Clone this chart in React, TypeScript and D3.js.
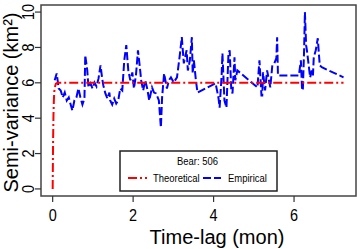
import React from 'react';
import * as d3 from 'd3';

// empirical semi-variance, Bear 506
const empLag = [
  0.05, 0.10, 0.15, 0.20, 0.25, 0.30, 0.35, 0.40, 0.44, 0.49, 0.54, 0.59, 0.64, 0.69, 0.74, 0.79,
  0.81, 0.86, 0.89, 0.94, 0.99, 1.04, 1.09, 1.14, 1.19, 1.23, 1.26, 1.31, 1.36, 1.41, 1.43, 1.48,
  1.53, 1.58, 1.63, 1.68, 1.73, 1.78, 1.83, 1.88, 1.93, 1.98, 2.02, 2.07, 2.12, 2.17, 2.20, 2.25,
  2.30, 2.35, 2.40, 2.47, 2.52, 2.57, 2.64, 2.69, 2.72, 2.77, 2.84, 2.89, 2.94, 3.01, 3.09, 3.16,
  3.21, 3.26, 3.33, 3.36, 3.41, 3.46, 3.48, 3.51, 3.56, 3.60,
  4.05, 4.12, 4.15, 4.20, 4.22, 4.27, 4.32, 4.37, 4.40, 4.44, 4.47, 4.52, 4.54, 4.59,
  5.09, 5.14, 5.19, 5.21, 5.23, 5.28, 5.33, 5.41, 5.46, 5.51, 5.56, 5.58, 5.60,
  6.12, 6.17, 6.20, 6.22, 6.25, 6.27, 6.30, 6.32, 6.37, 6.40, 6.44, 6.47, 6.49, 6.54, 6.59, 6.62,
  6.64, 6.69, 7.23,
];
const empGamma = [
  6.14, 6.53, 5.68, 5.57, 5.17, 5.45, 5.00, 5.17, 4.83, 4.43, 5.00, 5.17, 5.68, 5.17, 4.77, 5.11,
  7.56, 6.70, 5.74, 5.97, 5.68, 6.02, 5.80, 6.25, 6.99, 6.25, 5.85, 5.40, 5.11, 5.45, 5.00, 4.77,
  5.11, 4.83, 5.00, 5.68, 5.57, 7.27, 8.13, 6.70, 6.14, 6.59, 5.68, 6.42, 7.84, 6.82, 6.14, 5.57,
  6.14, 5.68, 5.00, 5.74, 5.45, 5.40, 5.00, 3.47, 5.17, 6.53, 5.68, 6.14, 6.31, 6.02, 6.31, 7.56,
  8.58, 7.10, 7.84, 6.70, 7.27, 8.58, 6.53, 7.27, 6.14, 5.45,
  5.97, 5.17, 4.60, 6.42, 7.67, 5.00, 4.60, 7.67, 7.84, 5.57, 5.40, 7.44, 6.14, 6.70,
  5.74, 7.27, 5.28, 5.28, 6.59, 5.57, 6.70, 5.74, 6.99, 7.10, 7.39, 8.58, 6.42,
  6.42, 7.27, 5.57, 5.68, 7.84, 10.0, 8.13, 7.84, 6.88, 6.31, 6.70, 6.42, 7.44, 7.84, 8.52, 7.56,
  6.99, 6.88, 6.31,
];

// fitted (theoretical) model
const theoLag = [0, 0.01, 0.02, 0.03, 0.04, 0.06, 0.08, 0.12, 7.23];
const theoGamma = [0, 2.6, 4.2, 5.0, 5.5, 5.8, 5.95, 6.0, 6.0];

const xTicks = [0, 2, 4, 6];
const yTicks = [0, 2, 4, 6, 8, 10];

const W = 360;
const H = 249;
const box = { left: 41, right: 356, top: 5, bottom: 196 };
const FONT = "'Liberation Sans', Arial, sans-serif";

export default function App() {
  const x = d3.scaleLinear().domain([-0.29, 7.54]).range([box.left, box.right]);
  const y = d3.scaleLinear().domain([-0.4, 10.4]).range([box.bottom, box.top]);

  const line = d3.line<[number, number]>()
    .x(d => x(d[0]))
    .y(d => y(d[1]));

  const empPath = line(empLag.map((l, i) => [l, empGamma[i]]));
  const theoPath = line(theoLag.map((l, i) => [l, theoGamma[i]]));

  const legX = 120, legY = 151, legW = 157, legH = 40;

  return (
    <svg width={W} height={H} style={{ position: 'absolute', left: 0, top: 0, background: '#fff' }}
      fontFamily={FONT}>
      <rect x={0} y={0} width={W} height={H} fill="#fff" />
      <path d={empPath ?? ''} fill="none" stroke="#0000ff" strokeWidth={2} strokeDasharray="8,3" />
      <path d={theoPath ?? ''} fill="none" stroke="#ff0000" strokeWidth={2} strokeDasharray="9,3,2,3" />

      <rect x={box.left} y={box.top} width={box.right - box.left} height={box.bottom - box.top}
        fill="none" stroke="#444" strokeWidth={1.5} />

      {xTicks.map(t => (
        <g key={'x' + t}>
          <line x1={x(t)} x2={x(t)} y1={box.bottom} y2={box.bottom + 6} stroke="#333" strokeWidth={1.2} />
          <text transform={`translate(${x(t)},221) scale(0.85,1)`} textAnchor="middle" fontSize={17}>{t}</text>
        </g>
      ))}
      {yTicks.map(t => (
        <g key={'y' + t}>
          <line x1={box.left - 6} x2={box.left} y1={y(t)} y2={y(t)} stroke="#333" strokeWidth={1.2} />
          <text transform={`translate(34,${y(t)}) rotate(-90) scale(0.85,1)`} textAnchor="middle" fontSize={17}>{t}</text>
        </g>
      ))}

      <text x={217} y={244} textAnchor="middle" fontSize={20}>Time-lag (mon)</text>
      <text transform={`translate(18,${(box.top + box.bottom) / 2 + 2}) rotate(-90)`} textAnchor="middle"
        fontSize={20}>Semi-variance (km²)</text>

      <rect x={legX} y={legY} width={legW} height={legH} fill="#fff" stroke="#222" strokeWidth={1.5} />
      <text transform={`translate(${legX + legW / 2 - 1},${legY + 14}) scale(0.9,1)`} textAnchor="middle" fontSize={10.5}>Bear: 506</text>
      <line x1={legX + 8} x2={legX + 27} y1={legY + 27} y2={legY + 27} stroke="#ff0000" strokeWidth={2} strokeDasharray="9,3,2,3" />
      <text transform={`translate(${legX + 33},${legY + 31}) scale(0.9,1)`} fontSize={10.5}>Theoretical</text>
      <line x1={legX + 83} x2={legX + 101} y1={legY + 27} y2={legY + 27} stroke="#0000ff" strokeWidth={2} strokeDasharray="8,3" />
      <text transform={`translate(${legX + 108},${legY + 31}) scale(0.9,1)`} fontSize={10.5}>Empirical</text>
    </svg>
  );
}
